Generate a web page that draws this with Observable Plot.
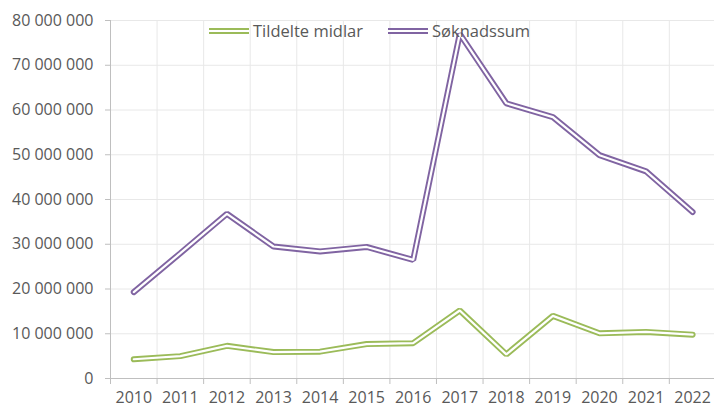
<!DOCTYPE html>
<html><head><meta charset="utf-8">
<script src="https://cdn.jsdelivr.net/npm/d3@7"></script>
<script src="https://cdn.jsdelivr.net/npm/@observablehq/plot@0.6"></script>
<style>
body{margin:0;background:#fff;font-family:"Open Sans",Lato,sans-serif;}
#wrap{position:relative;width:714px;height:407px;overflow:hidden;}
#legend{position:absolute;top:19px;left:209px;display:flex;align-items:center;gap:25px;font-size:16.5px;color:#595959;}
.item{display:flex;align-items:center;gap:4px;}
</style>
</head><body>
<div id="wrap"><div id="legend"></div></div>
<script>
const years = [2010,2011,2012,2013,2014,2015,2016,2017,2018,2019,2020,2021,2022];
const tildelteMidlar = [4.3e6,5.0e6,7.3e6,5.9e6,6.0e6,7.7e6,7.9e6,15.2e6,5.4e6,14.0e6,10.1e6,10.4e6,9.8e6];
const soknadssum = [19.3e6,28.0e6,36.8e6,29.5e6,28.4e6,29.4e6,26.5e6,77.0e6,61.5e6,58.4e6,49.9e6,46.3e6,37.2e6];
const seriesNames = ["Tildelte midlar","Søknadssum"];
const seriesColors = ["#9bbb59","#8064a2"];
const yTicks = [0,10e6,20e6,30e6,40e6,50e6,60e6,70e6,80e6];

const fmt = v => d3.format(",")(v).replace(/,/g, "\u00a0");
const boundaries = years.map(y => y - 0.5);

const data = [];
years.forEach((y,i) => {
  data.push({year:y, value:tildelteMidlar[i], series:seriesNames[0]});
  data.push({year:y, value:soknadssum[i], series:seriesNames[1]});
});

const chart = Plot.plot({
  width: 714,
  height: 407,
  marginLeft: 110,
  marginRight: 0,
  marginTop: 20,
  marginBottom: 29,
  style: {fontFamily: "'Open Sans', Lato, sans-serif", fontSize: "16px", background: "#fff"},
  x: {type: "linear", domain: [2009.5, 2022.47], axis: null, label: null},
  y: {domain: [0, 80e6], axis: null, label: null},
  color: {domain: seriesNames, range: seriesColors},
  marks: [
    Plot.ruleY(yTicks.slice(1), {stroke: "#e8e8e8", strokeWidth: 1}),
    Plot.ruleX(boundaries.slice(1), {stroke: "#e8e8e8", strokeWidth: 1}),
    Plot.ruleX([boundaries[0]], {stroke: "#bfbfbf", strokeWidth: 1}),
    Plot.ruleY([0], {stroke: "#bfbfbf", strokeWidth: 1}),
    Plot.axisY(yTicks, {tickSize: 5, color: "#bfbfbf", tickFormat: () => "", label: null}),
    Plot.axisY(yTicks, {tickSize: 0, tickPadding: 17, color: "#595959", tickFormat: fmt, fontSize: 16, label: null}),
    Plot.axisX(boundaries, {tickSize: 6, color: "#bfbfbf", tickFormat: () => "", label: null}),
    Plot.axisX(years, {tickSize: 0, tickPadding: 13, color: "#595959", tickFormat: d => String(d), fontSize: 16, label: null}),
    Plot.line(data, {x: "year", y: "value", z: "series", stroke: "series", strokeWidth: 6, strokeLinejoin: "miter"}),
    Plot.line(data, {x: "year", y: "value", z: "series", stroke: "#fff", strokeWidth: 2.2, strokeLinejoin: "miter"})
  ]
});
document.getElementById("wrap").prepend(chart);

const legend = document.getElementById("legend");
seriesNames.forEach((name, i) => {
  const item = document.createElement("div");
  item.className = "item";
  item.innerHTML = `<svg width="40" height="8"><line x1="0" x2="40" y1="4" y2="4" stroke="${seriesColors[i]}" stroke-width="6"/><line x1="0" x2="40" y1="4" y2="4" stroke="#fff" stroke-width="2.2"/></svg><span>${name}</span>`;
  legend.appendChild(item);
});
</script>
</body></html>
